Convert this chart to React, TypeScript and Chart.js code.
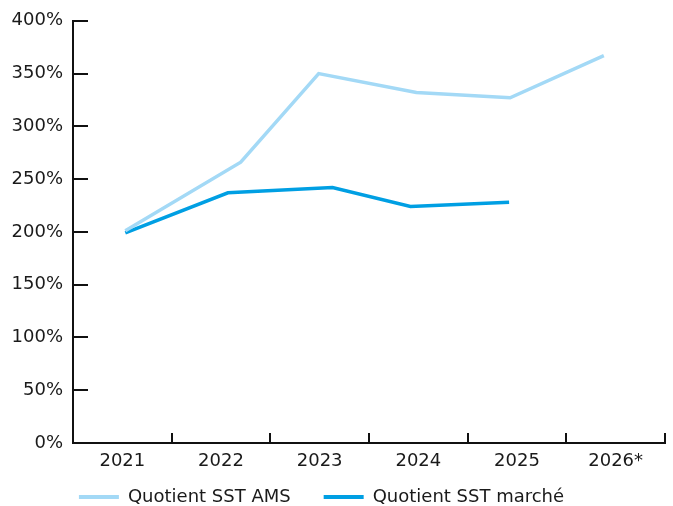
import React, { useEffect, useRef } from "react";
import { Chart, registerables } from "chart.js";

Chart.register(...registerables);

const categories = ["2021", "2022", "2023", "2024", "2025", "2026*"];
const yTicksStep = 50;
const yMin = 0;
const yMax = 400;

// x positions expressed in fractional years (category "2021" spans 2021..2022)
const amsX = [2021.53, 2022.7, 2023.49, 2024.48, 2025.43, 2026.38];
const amsY = [201, 266, 350, 332, 327, 367];
const marketX = [2021.53, 2022.57, 2023.63, 2024.42, 2025.42];
const marketY = [199, 237, 242, 224, 228];

const seriesNames = ["Quotient SST AMS", "Quotient SST marché"];
const colors = ["#a3d9f6", "#009fe3"];

const xStart = 2021;
const xEnd = 2027;

const innerTicks = {
  id: "innerTicks",
  afterLayout(chart: any) {
    // let the x labels draw below the (narrow) axis box
    const s = chart.scales.x;
    s.height = 40;
    s.bottom = s.top + 40;
  },
  afterDraw(chart: any) {
    const { ctx, chartArea } = chart;
    const y = chart.scales.y;
    const xv = chart.scales.xv;
    ctx.save();
    ctx.strokeStyle = "#111";
    ctx.lineWidth = 2;
    ctx.beginPath();
    y.ticks.forEach((t: any) => {
      if (t.value === yMin) return;
      const py = Math.round(y.getPixelForValue(t.value));
      ctx.moveTo(chartArea.left, py);
      ctx.lineTo(chartArea.left + 15, py);
    });
    for (let v = xStart + 1; v <= xEnd; v++) {
      const px = Math.round(xv.getPixelForValue(v));
      ctx.moveTo(px, chartArea.bottom);
      ctx.lineTo(px, chartArea.bottom - 10);
    }
    ctx.stroke();
    ctx.restore();
  },
};

export default function App() {
  const ref = useRef<HTMLCanvasElement | null>(null);

  useEffect(() => {
    if (!ref.current) return;
    Chart.defaults.font.family = "'DejaVu Sans', sans-serif";
    Chart.defaults.font.size = 18;
    Chart.defaults.color = "#1a1a1a";

    const chart = new Chart(ref.current, {
      type: "line",
      data: {
        labels: categories,
        datasets: [
          {
            label: seriesNames[0],
            data: amsX.map((x, i) => ({ x, y: amsY[i] })),
            borderColor: colors[0],
            backgroundColor: colors[0],
            borderWidth: 3.5,
            pointRadius: 0,
            tension: 0,
            xAxisID: "xv",
            yAxisID: "y",
          },
          {
            label: seriesNames[1],
            data: marketX.map((x, i) => ({ x, y: marketY[i] })),
            borderColor: colors[1],
            backgroundColor: colors[1],
            borderWidth: 3.5,
            pointRadius: 0,
            tension: 0,
            xAxisID: "xv",
            yAxisID: "y",
          },
        ],
      },
      options: {
        animation: false,
        responsive: true,
        maintainAspectRatio: false,
        layout: { padding: { left: -22, right: 8, top: 20, bottom: -10 } },
        scales: {
          x: {
            type: "category",
            position: "bottom",
            offset: true,
            grid: { display: false, drawTicks: false },
            border: { display: true, color: "#111", width: 2 },
            ticks: { padding: 8, font: { size: 18 }, color: "#1a1a1a", maxRotation: 0, autoSkip: false },
            afterFit: (s: any) => {
              s.height = 12;
            },
          },
          xv: {
            type: "linear",
            display: false,
            min: xStart,
            max: xEnd,
          },
          y: {
            type: "linear",
            min: yMin,
            max: yMax,
            grid: { display: false, drawTicks: false },
            border: { display: true, color: "#111", width: 2 },
            ticks: {
              stepSize: yTicksStep,
              padding: 10,
              font: { size: 18 },
              color: "#1a1a1a",
              callback: (v: any) => `${v}%`,
            },
            afterFit: (s: any) => {
              s.width = 95;
            },
          },
        },
        plugins: {
          legend: {
            position: "bottom",
            labels: {
              boxWidth: 40,
              boxHeight: 4,
              padding: 33,
              font: { size: 18 },
              color: "#1a1a1a",
              generateLabels: (chart: any) =>
                Chart.defaults.plugins.legend.labels
                  .generateLabels(chart)
                  .map((l: any) => ({ ...l, lineWidth: 0 })),
            },
          },
          tooltip: { enabled: false },
        },
      },
      plugins: [innerTicks],
    });
    return () => chart.destroy();
  }, []);

  return (
    <div style={{ position: "absolute", left: 0, top: 0, width: 673, height: 506 }}>
      <canvas ref={ref} />
    </div>
  );
}
